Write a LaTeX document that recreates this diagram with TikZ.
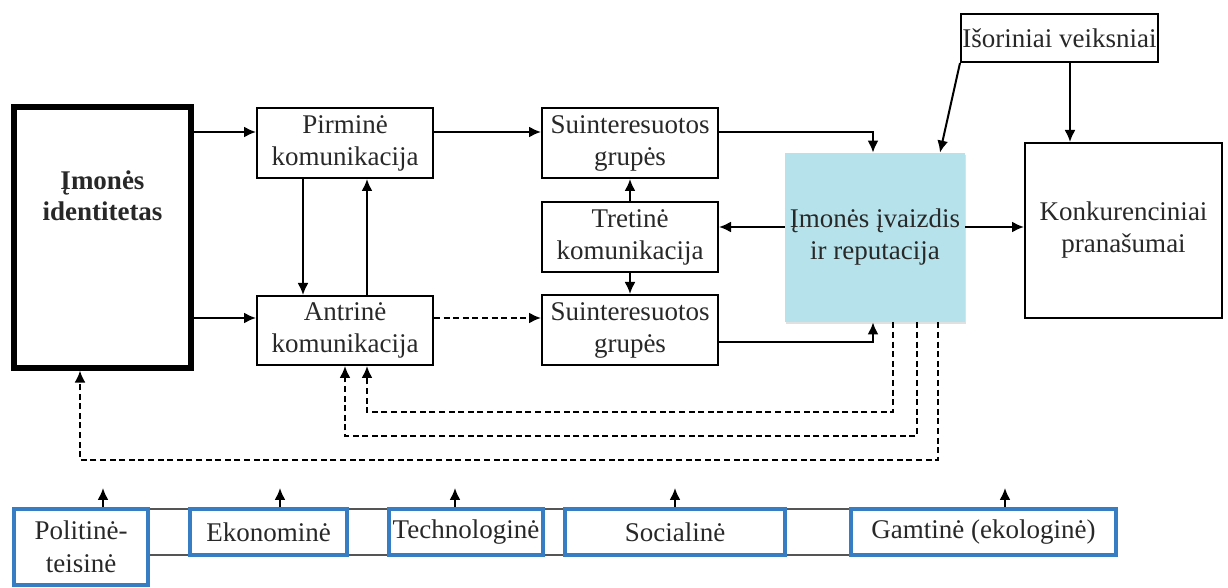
\documentclass[tikz,border=0pt]{standalone}
\usepackage{fontspec}
\setmainfont{Liberation Serif}
\usetikzlibrary{arrows.meta}
\definecolor{boxblue}{RGB}{55,125,195}
\definecolor{imgcyan}{RGB}{182,227,235}
\definecolor{bandgray}{RGB}{85,85,85}
\definecolor{ink}{RGB}{40,40,40}
\begin{document}
\begin{tikzpicture}[x=0.5pt,y=-0.5pt,
  font=\fontsize{13.5}{16}\selectfont, text=ink,
  box/.style={draw, line width=1pt, inner sep=0pt, align=center, fill=white},
  factor/.style={draw=boxblue, line width=2pt, inner sep=0pt, align=center, fill=white},
  arr/.style={-{Latex[length=6pt,width=5.5pt]}, line width=1pt},
  darr/.style={arr, dash pattern=on 3pt off 1.8pt}
]
\useasboundingbox (0,0) rectangle (1228,588);

% main blocks
\node[box, line width=2.6pt, minimum width=88.5pt, minimum height=130.5pt] (ident) at (102.5,237.5) {};
\node[font=\fontsize{13.5}{15.5}\selectfont\bfseries, align=center] (identtext) at (102.5,196) {Įmonės\\identitetas};
\node[box, minimum width=88pt, minimum height=35pt] (pirm) at (345,143) {Pirminė\\komunikacija};
\node[box, minimum width=88pt, minimum height=34.5pt] (antr) at (345,330.5) {Antrinė\\komunikacija};
\node[box, minimum width=88pt, minimum height=35pt] (sg1) at (630,143) {Suinteresuotos\\grupės};
\node[box, minimum width=88pt, minimum height=35pt] (tret) at (630,237) {Tretinė\\komunikacija};
\node[box, minimum width=88pt, minimum height=35pt] (sg2) at (630,330) {Suinteresuotos\\grupės};
\node[fill=black!12, minimum width=90pt, minimum height=84.5pt, inner sep=0pt] at (876,239.5) {};
\node[fill=imgcyan, inner sep=0pt, minimum width=90pt, minimum height=84.5pt, align=center] (img) at (875,237.5) {Įmonės įvaizdis\\ir reputacija};
\node[box, minimum width=98.5pt, minimum height=87.5pt] (konk) at (1123.5,230.5) {Konkurenciniai\\pranašumai};
\node[box, minimum width=98.5pt, minimum height=24pt] (isor) at (1059.5,38) {Išoriniai veiksniai};

% row of external factors
\draw[bandgray, line width=0.8pt] (14,509) rectangle (1116,555);
\node[factor, minimum width=67pt, minimum height=38pt, font=\fontsize{13.5}{16.5}\selectfont] (pol) at (81,547) {Politinė-\\teisinė};
\node[factor, minimum width=78.5pt, minimum height=23pt] (eko) at (268.5,532) {Ekonominė};
\node[factor, minimum width=77pt, minimum height=23pt] (tech) at (466,532) {Technologinė};
\node[factor, minimum width=110pt, minimum height=23pt] (soc) at (675,532) {Socialinė};
\node[factor, minimum width=132.5pt, minimum height=23pt] (gamt) at (983.5,532) {Gamtinė (ekologinė)};

% helper lines for connector routing
\coordinate (hA) at (0,132);
\coordinate (hB) at (0,318);
\coordinate (hC) at (0,227);
\coordinate (hD) at (0,342);
\coordinate (hE) at (0,412);
\coordinate (hF) at (0,436);
\coordinate (hG) at (0,460);
\coordinate (vA) at (303,0);
\coordinate (vB) at (367,0);
\coordinate (vI) at (345,0);
\coordinate (vK) at (80,0);
\coordinate (vC) at (873,0);
\coordinate (vE) at (1070,0);
\coordinate (vF) at (940,0);
\coordinate (vG) at (893,0);
\coordinate (vH) at (917,0);
\coordinate (vJ) at (938,0);

% solid connectors
\draw[arr] (ident.east |- hA) -- (pirm.west |- hA);
\draw[arr] (ident.east |- hB) -- (antr.west |- hB);
\draw[arr] (pirm.south -| vA) -- (antr.north -| vA);
\draw[arr] (antr.north -| vB) -- (pirm.south -| vB);
\draw[arr] (pirm.east |- hA) -- (sg1.west |- hA);
\draw[darr] (antr.east |- hB) -- (sg2.west |- hB);
\draw[arr] (tret.north) -- (sg1.south);
\draw[arr] (tret.south) -- (sg2.north);
\draw[arr] (sg1.east |- hA) -| (img.north -| vC);
\draw[arr] (sg2.east |- hD) -| (img.south -| vC);
\draw[arr] (img.west |- hC) -- (tret.east |- hC);
\draw[arr] (img.east |- hC) -- (konk.west |- hC);
\draw[arr] (isor.south -| vE) -- (konk.north -| vE);
\draw[arr] (isor.south west) -- (img.north -| vF);

% feedback loops
\draw[darr] (img.south -| vG) |- (vB |- hE) -- (antr.south -| vB);
\draw[darr] (img.south -| vH) |- (vI |- hF) -- (antr.south -| vI);
\draw[darr] (img.south -| vJ) |- (vK |- hG) -- (ident.south -| vK);

% influence of external factors
\coordinate (tPol) at (103,488);
\coordinate (tEko) at (280,488);
\coordinate (tTech) at (455,488);
\coordinate (tSoc) at (675,488);
\coordinate (tGamt) at (1005,488);
\draw[arr] (pol.north -| tPol) -- (tPol);
\draw[arr] (eko.north -| tEko) -- (tEko);
\draw[arr] (tech.north -| tTech) -- (tTech);
\draw[arr] (soc.north -| tSoc) -- (tSoc);
\draw[arr] (gamt.north -| tGamt) -- (tGamt);
\end{tikzpicture}
\end{document}
